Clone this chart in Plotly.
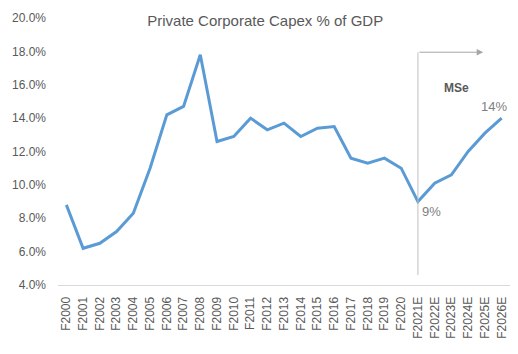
import plotly.graph_objects as go

years = ["F2000", "F2001", "F2002", "F2003", "F2004", "F2005", "F2006", "F2007", "F2008",
         "F2009", "F2010", "F2011", "F2012", "F2013", "F2014", "F2015", "F2016", "F2017",
         "F2018", "F2019", "F2020", "F2021E", "F2022E", "F2023E", "F2024E", "F2025E", "F2026E"]
capex_pct = [8.8, 6.2, 6.5, 7.2, 8.3, 11.0, 14.2, 14.7, 17.8,
             12.6, 12.9, 14.0, 13.3, 13.7, 12.9, 13.4, 13.5, 11.6,
             11.3, 11.6, 11.0, 9.0, 10.1, 10.6, 12.0, 13.1, 14.0]
y_ticks = [4, 6, 8, 10, 12, 14, 16, 18, 20]
y_tick_labels = ["4.0%", "6.0%", "8.0%", "10.0%", "12.0%", "14.0%", "16.0%", "18.0%", "20.0%"]

GRAY = "#595959"
FONT = "Liberation Sans, Arial, sans-serif"

fig = go.Figure()
fig.add_trace(go.Scatter(x=years, y=capex_pct, mode="lines",
                         line=dict(color="#5B9BD5", width=3), hoverinfo="skip"))

# forecast divider line
fig.add_shape(type="line", xref="x", yref="y", x0="F2021E", x1="F2021E", y0=4.6, y1=17.95,
              line=dict(color="#BFBFBF", width=1))
fig.add_annotation(xref="x", yref="y", axref="x", ayref="y",
                   x=24.9, y=17.95, ax=21, ay=17.95, text="", showarrow=True,
                   arrowhead=2, arrowsize=1.3, arrowwidth=1, arrowcolor="#A6A6A6")
fig.add_annotation(xref="x", yref="y", x=23.3, y=15.8, text="<b>MSe</b>", showarrow=False,
                   font=dict(family=FONT, size=12, color=GRAY))
fig.add_annotation(xref="x", yref="y", x="F2026E", y=14.0, text="14%", showarrow=False,
                   yshift=12, xshift=-8, font=dict(family=FONT, size=13, color="#7F7F7F"))
fig.add_annotation(xref="x", yref="y", x="F2021E", y=9.0, text="9%", showarrow=False,
                   yshift=-10, xshift=14, font=dict(family=FONT, size=13, color="#7F7F7F"))

fig.update_layout(
    width=518, height=354,
    margin=dict(l=58, r=8, t=18, b=69),
    paper_bgcolor="white", plot_bgcolor="white",
    showlegend=False,
    title=dict(text="Private Corporate Capex % of GDP", x=0.512, xanchor="center",
               y=0.94, yanchor="middle", yref="container",
               font=dict(family=FONT, size=15, color=GRAY)),
    xaxis=dict(type="category", range=[-0.5, len(years) - 0.5],
               showgrid=False, showline=True, linecolor="#D9D9D9",
               linewidth=1, ticks="", tickangle=-90, ticklabelstandoff=6,
               tickfont=dict(family=FONT, size=12, color=GRAY)),
    yaxis=dict(range=[4, 20], tickvals=y_ticks, ticktext=y_tick_labels, showgrid=False,
               zeroline=False, showline=False, ticks="", ticklabelstandoff=11,
               tickfont=dict(family=FONT, size=12, color=GRAY)),
)

fig.write_html("out.html")
